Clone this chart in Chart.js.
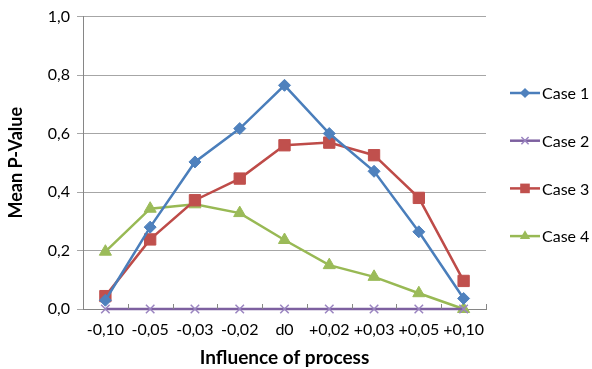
<!DOCTYPE html>
<html><head><meta charset="utf-8">
<script src="https://cdn.jsdelivr.net/npm/chart.js@4/dist/chart.umd.min.js"></script>
<style>html,body{margin:0;padding:0;background:#fff}#wrap{width:592px;height:369px;position:relative}</style>
</head><body><div id="wrap"><canvas id="c" width="592" height="369"></canvas></div>
<script>
const categories = ['-0,10','-0,05','-0,03','-0,02','d0','+0,02','+0,03','+0,05','+0,10'];
const case1 = [0.03,0.28,0.503,0.617,0.765,0.60,0.471,0.264,0.036];
const case2 = [0,0,0,0,0,0,0,0,0];
const case3 = [0.044,0.238,0.372,0.446,0.56,0.569,0.526,0.38,0.096];
const case4 = [0.196,0.343,0.358,0.328,0.236,0.15,0.11,0.054,0.0];
const seriesNames = ['Case 1','Case 2','Case 3','Case 4'];
const yTickLabels = ['0,0','0,2','0,4','0,6','0,8','1,0'];
const xTitle = 'Influence of process';
const yTitle = 'Mean P-Value';

const FONT = 'Lato, "Open Sans", sans-serif';
const styles = [
  {line:'#4A7EBB', fill:'#4F81BD', shape:'rectRot', r:6},
  {line:'#7D60A0', fill:'#9A84C0', shape:'crossRot', r:6},
  {line:'#BE4B48', fill:'#C0504D', shape:'rect', r:8},
  {line:'#98B954', fill:'#9BBB59', shape:'triangle', r:7}
];
const seriesData = [case1, case2, case3, case4];

function drawMarker(ctx, shape, x, y, r, fill){
  ctx.save();
  ctx.fillStyle = fill; ctx.strokeStyle = fill; ctx.lineWidth = 1.5;
  ctx.beginPath();
  if (shape === 'rectRot') {
    ctx.moveTo(x, y - r); ctx.lineTo(x + r, y); ctx.lineTo(x, y + r); ctx.lineTo(x - r, y); ctx.closePath(); ctx.fill();
  } else if (shape === 'rect') {
    const s = r * Math.SQRT1_2; ctx.rect(x - s, y - s, 2*s, 2*s); ctx.fill();
  } else if (shape === 'triangle') {
    ctx.moveTo(x, y - r); ctx.lineTo(x + r*0.866, y + r*0.5); ctx.lineTo(x - r*0.866, y + r*0.5); ctx.closePath(); ctx.fill();
  } else if (shape === 'crossRot') {
    const s = r * Math.SQRT1_2;
    ctx.moveTo(x - s, y - s); ctx.lineTo(x + s, y + s); ctx.moveTo(x + s, y - s); ctx.lineTo(x - s, y + s); ctx.stroke();
  }
  ctx.restore();
}

const extras = {
  id: 'extras',
  afterDraw(chart){
    const ctx = chart.ctx;
    const xs = chart.scales.x, ca = chart.chartArea;
    ctx.save();
    ctx.strokeStyle = '#868686'; ctx.lineWidth = 1;
    const step = xs.getPixelForValue(1) - xs.getPixelForValue(0);
    for (let i = 0; i <= categories.length; i++) {
      const px = Math.round(xs.getPixelForValue(i) - step/2) + 0.5;
      ctx.beginPath(); ctx.moveTo(px, ca.bottom); ctx.lineTo(px, ca.bottom - 5); ctx.stroke();
    }
    ctx.restore();
    const lx0 = ca.right + 24, lx1 = lx0 + 30, y0 = 93, dy = 47.7;
    seriesNames.forEach((name, i) => {
      const y = y0 + i * dy, st = styles[i];
      ctx.save();
      ctx.strokeStyle = st.line; ctx.lineWidth = 2.5;
      ctx.beginPath(); ctx.moveTo(lx0, y); ctx.lineTo(lx1, y); ctx.stroke();
      drawMarker(ctx, st.shape, (lx0 + lx1)/2, y, st.r * 0.85, st.fill);
      ctx.fillStyle = '#000'; ctx.font = '16px ' + FONT; ctx.textBaseline = 'middle'; ctx.textAlign = 'left';
      ctx.fillText(name, lx1 + 2, y + 1);
      ctx.restore();
    });
  }
};

new Chart(document.getElementById('c'), {
  type: 'line',
  data: {
    labels: categories,
    datasets: seriesData.map((d, i) => ({
      label: seriesNames[i], data: d,
      borderColor: styles[i].line, borderWidth: 2.5,
      backgroundColor: styles[i].fill,
      pointStyle: styles[i].shape, pointRadius: styles[i].r, pointHoverRadius: styles[i].r,
      pointBorderColor: styles[i].fill, pointBackgroundColor: styles[i].fill,
      pointBorderWidth: styles[i].shape === 'crossRot' ? 1.5 : 1,
      tension: 0, fill: false, clip: false
    }))
  },
  options: {
    responsive: false, animation: false, devicePixelRatio: 1,
    layout: { padding: { left: 0, right: 106, top: 8, bottom: 0 } },
    plugins: { legend: { display: false }, tooltip: { enabled: false } },
    scales: {
      x: {
        offset: true,
        grid: { display: false, drawOnChartArea: false },
        border: { display: true, color: '#868686', width: 1 },
        ticks: { color: '#000', font: { family: FONT, size: 16 }, padding: 3, maxRotation: 0, autoSkip: false },
        title: { display: true, text: xTitle, color: '#000', font: { family: FONT, size: 19, weight: 'bold' }, padding: { top: 8, bottom: 0 } },
        afterFit(s){ s.height = 60; }
      },
      y: {
        min: 0, max: 1,
        ticks: { stepSize: 0.2, color: '#000', font: { family: FONT, size: 16 }, padding: 7,
          callback: (v, i) => yTickLabels[i] },
        grid: { color: '#A6A6A6', lineWidth: 1, drawTicks: true, tickLength: 6, tickColor: '#A6A6A6' },
        border: { display: true, color: '#868686', width: 1 },
        title: { display: true, text: yTitle, color: '#000', font: { family: FONT, size: 18, weight: 'bold' }, padding: { top: 5, bottom: 8 } },
        afterFit(s){ s.width = 83; }
      }
    }
  },
  plugins: [extras]
});
</script></body></html>
